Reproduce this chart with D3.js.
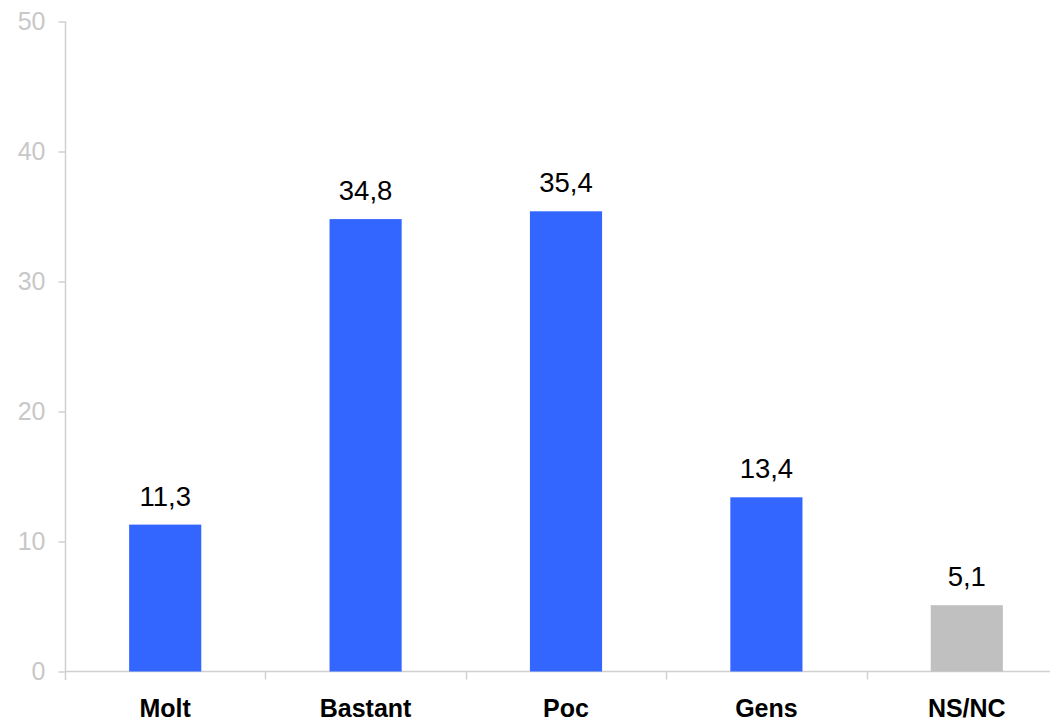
<!DOCTYPE html>
<html>
<head>
<meta charset="utf-8">
<script src="https://cdn.jsdelivr.net/npm/d3@7"></script>
<style>
  html, body { margin: 0; padding: 0; background: #ffffff; }
  svg { display: block; font-family: "Liberation Sans", Arial, sans-serif; }
</style>
</head>
<body>
<svg id="chart" width="1050" height="720"></svg>
<script>
const categories = ["Molt", "Bastant", "Poc", "Gens", "NS/NC"];
const values = [11.3, 34.8, 35.4, 13.4, 5.1];
const valueLabels = ["11,3", "34,8", "35,4", "13,4", "5,1"];
const barColors = ["#3366ff", "#3366ff", "#3366ff", "#3366ff", "#c0c0c0"];
const yTicks = [0, 10, 20, 30, 40, 50];

const svg = d3.select("#chart");
const W = 1050;
const axisColor = "#d0d0d0";

const y = d3.scaleLinear().domain([0, 50]).range([671.5, 21.5]);
const x = d3.scaleBand().domain(categories).range([65, 1067])
  .paddingInner(0.64).paddingOuter(0.32);

// y axis
const yAxis = svg.append("g").attr("transform", "translate(65.5,0)")
  .call(d3.axisLeft(y).tickValues(yTicks).tickSize(7).tickPadding(13).tickFormat(d3.format("d")));
yAxis.select(".domain").remove();
yAxis.selectAll(".tick line").attr("stroke", axisColor).attr("stroke-width", 1.5);
yAxis.selectAll(".tick text").attr("fill", "#c8c8c8").attr("font-size", 25)
  .attr("font-family", "Liberation Sans, Arial, sans-serif");
svg.append("line").attr("x1", 65.5).attr("x2", 65.5).attr("y1", y(50)).attr("y2", 680)
  .attr("stroke", axisColor).attr("stroke-width", 1.5);

// x axis line
svg.append("line").attr("x1", 65).attr("x2", W).attr("y1", y(0)).attr("y2", y(0))
  .attr("stroke", axisColor).attr("stroke-width", 1.5);

// category boundary ticks
const step = x.step();
const boundaries = categories.slice(1).map(c => x(c) - x.paddingInner() * step / 2);
svg.append("g").selectAll("line").data(boundaries).join("line")
  .attr("x1", d => Math.round(d) + 0.5).attr("x2", d => Math.round(d) + 0.5)
  .attr("y1", y(0)).attr("y2", y(0) + 8)
  .attr("stroke", axisColor).attr("stroke-width", 1.5);

// bars
svg.append("g").selectAll("rect").data(values).join("rect")
  .attr("x", (d, i) => x(categories[i]))
  .attr("width", x.bandwidth())
  .attr("y", d => y(d))
  .attr("height", d => y(0) - y(d))
  .attr("fill", (d, i) => barColors[i]);

// value labels
svg.append("g").selectAll("text").data(values).join("text")
  .attr("x", (d, i) => x(categories[i]) + x.bandwidth() / 2)
  .attr("y", d => y(d) - 19)
  .attr("text-anchor", "middle")
  .attr("font-size", 27.5)
  .attr("fill", "#000")
  .text((d, i) => valueLabels[i]);

// category labels
svg.append("g").selectAll("text").data(categories).join("text")
  .attr("x", d => x(d) + x.bandwidth() / 2)
  .attr("y", 717)
  .attr("text-anchor", "middle")
  .attr("font-size", 25)
  .attr("font-weight", "bold")
  .attr("fill", "#000")
  .text(d => d);
</script>
</body>
</html>
